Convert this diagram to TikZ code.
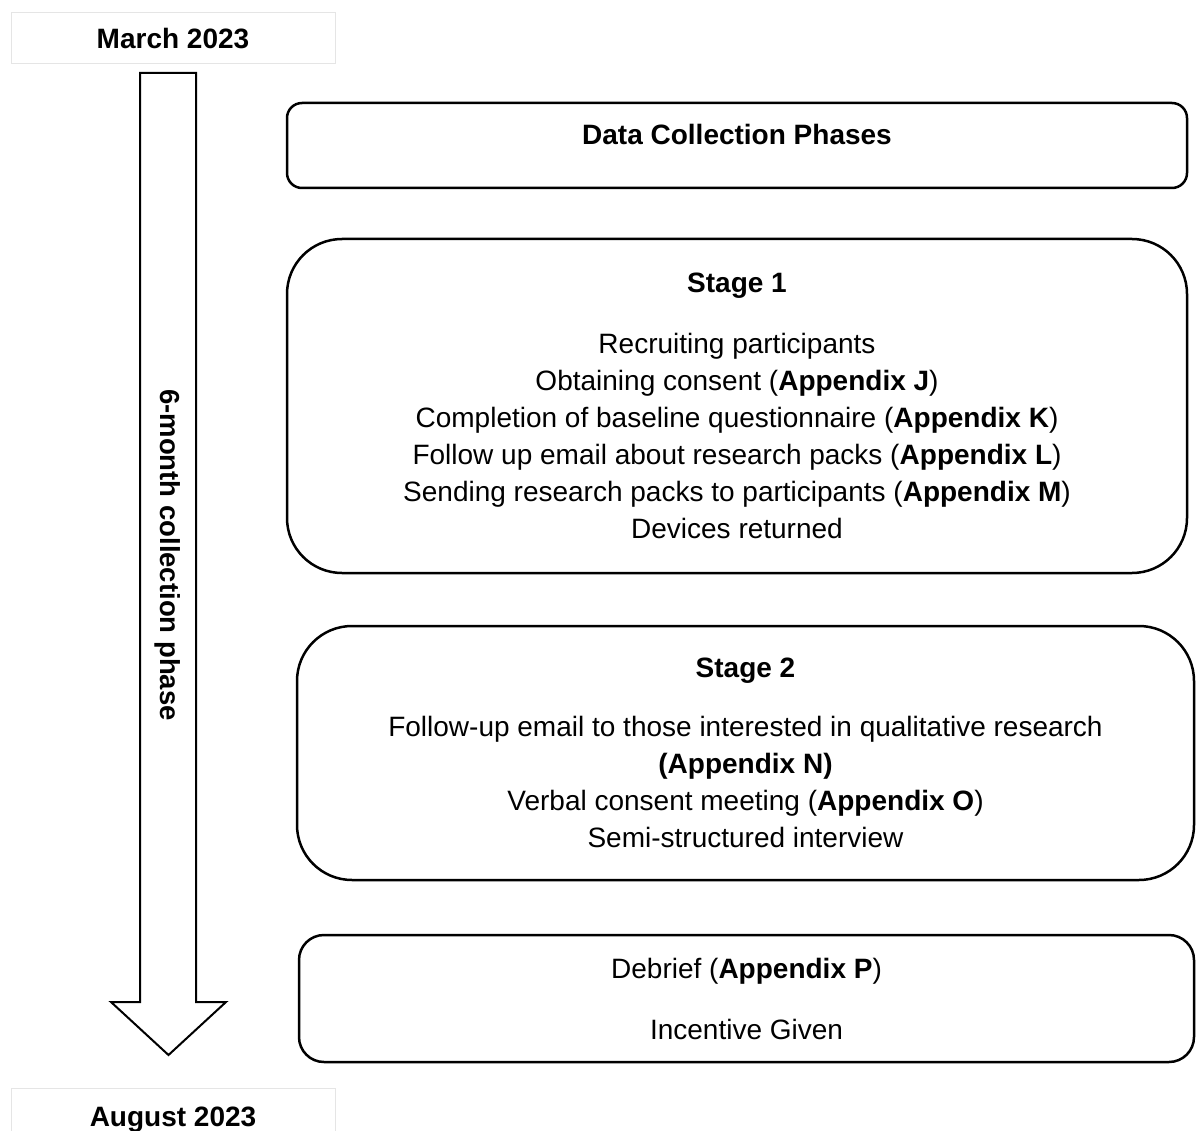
\documentclass[tikz,border=0pt]{standalone}
\usepackage{fontspec}
\setmainfont{Liberation Sans}
\usetikzlibrary{positioning}
\begin{document}
\begin{tikzpicture}
[x=1pt,y=-1pt,every node/.style={font=\fontsize{28}{37}\selectfont,align=center},datebox/.style={draw=black!10,line width=1pt,minimum width=324pt,minimum height=51pt,font=\fontsize{28}{37}\selectfont\bfseries},phase/.style={draw,line width=2.5pt,inner sep=0pt},]
\useasboundingbox (0,0) rectangle (1196,1131);
\node[datebox](march) at (173,38.5){March 2023};
\node[datebox,minimum height=63pt](august) at (173,1120){August 2023};
\draw[line width=2pt] (140,73) -- (196,73) -- (196,1002) -- (226,1002) -- (168.5,1055) -- (111,1002) -- (140,1002) -- cycle;
\node[rotate=-90,font=\fontsize{27.5}{37}\selectfont\bfseries](span) at (168,555){6-month collection phase};
\node[phase,rounded corners=15pt,minimum width=900pt,minimum height=85pt](phases) at (737,145.5){\raisebox{22pt}{\bfseries Data Collection Phases}};
\node[phase,rounded corners=55pt,minimum width=900pt,minimum height=334pt](stage1) at (737,406){\bfseries Stage 1\\[24pt]
	Recruiting participants\\
	Obtaining consent (\textbf{Appendix J})\\
	Completion of baseline questionnaire (\textbf{Appendix K})\\
	Follow up email about research packs (\textbf{Appendix L})\\
	Sending research packs to participants (\textbf{Appendix M})\\
	Devices returned};
\node[phase,rounded corners=55pt,minimum width=897pt,minimum height=254pt](stage2) at (745.5,753){\bfseries Stage 2\\[22pt]
	Follow-up email to those interested in qualitative research\\
	\textbf{(Appendix N)}\\
	Verbal consent meeting (\textbf{Appendix O})\\
	Semi-structured interview};
\node[phase,rounded corners=25pt,minimum width=895pt,minimum height=127pt](debrief) at (746.5,998.5){Debrief (\textbf{Appendix P})\\[24pt]
	Incentive Given};
\end{tikzpicture}
\end{document}
